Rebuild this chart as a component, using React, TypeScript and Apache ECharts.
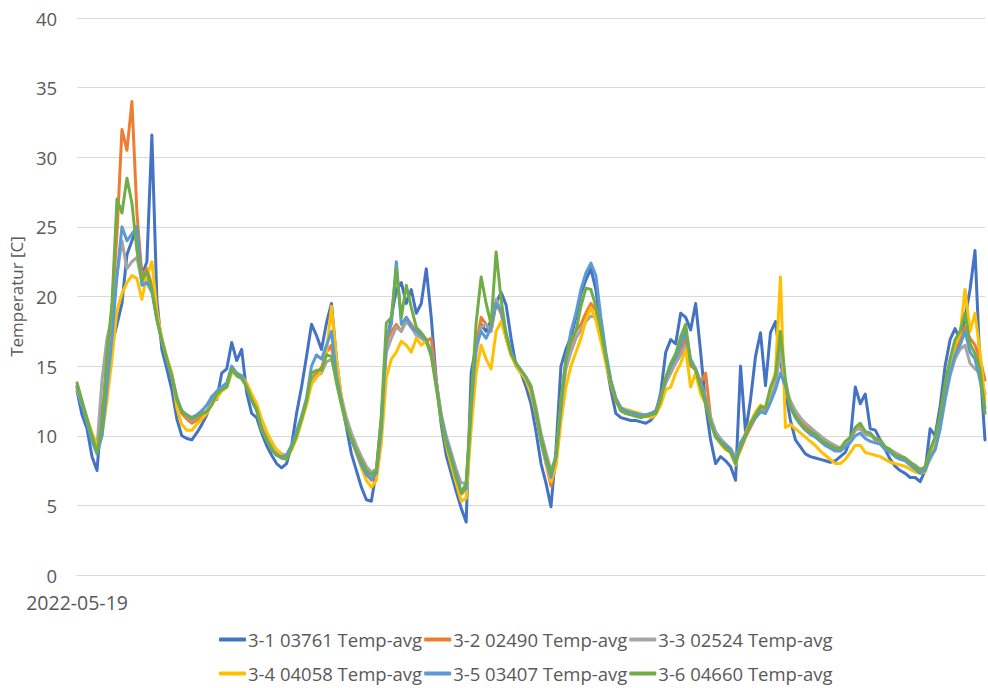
import React, { useEffect, useRef } from "react";
import * as echarts from "echarts";

const startLabel = "2022-05-19";
const yTicks = { min: 0, max: 40, interval: 5 };
const seriesNames = [
  "3-1 03761 Temp-avg",
  "3-2 02490 Temp-avg",
  "3-3 02524 Temp-avg",
  "3-4 04058 Temp-avg",
  "3-5 03407 Temp-avg",
  "3-6 04660 Temp-avg",
];
const seriesColors = ["#4472C4", "#ED7D31", "#A5A5A5", "#FFC000", "#5B9BD5", "#70AD47"];

const s31 = [
  13.2, 11.5, 10.5, 8.5, 7.5, 12.0, 13.5, 16.5, 18.0, 19.5, 23.0, 24.0, 25.0, 21.5, 22.5, 31.6, 19.8, 16.2, 14.8, 13.3,
  11.2, 10.0, 9.8, 9.7, 10.2, 10.8, 11.5, 12.8, 12.6, 14.5, 14.8, 16.7, 15.4, 16.2, 13.1, 11.6, 11.3, 10.2, 9.3, 8.6,
  8.0, 7.7, 8.0, 9.3, 11.6, 13.5, 15.7, 18.0, 17.2, 16.2, 18.1, 19.5, 15.5, 12.6, 10.6, 8.7, 7.5, 6.3, 5.4, 5.3,
  7.5, 11.0, 16.5, 18.5, 20.5, 21.0, 19.5, 20.5, 18.8, 19.5, 22.0, 18.5, 14.0, 10.8, 8.6, 7.3, 6.0, 4.8, 3.8, 14.5,
  16.5, 18.0, 17.5, 18.3, 19.5, 20.3, 19.4, 17.0, 15.0, 14.5, 13.5, 12.3, 10.3, 8.0, 6.6, 4.9, 9.0, 15.0, 16.2, 17.1,
  18.5, 20.2, 21.2, 22.0, 20.5, 17.8, 15.4, 13.3, 11.6, 11.3, 11.2, 11.1, 11.1, 11.0, 10.9, 11.1, 11.6, 13.1, 16.0, 16.9,
  16.6, 18.8, 18.5, 17.6, 19.5, 16.0, 12.2, 9.7, 8.0, 8.5, 8.2, 7.8, 6.8, 15.0, 10.2, 12.6, 15.7, 17.4, 13.6, 17.4,
  18.2, 15.4, 13.2, 11.1, 9.7, 9.2, 8.7, 8.5, 8.4, 8.3, 8.2, 8.1, 8.2, 8.5, 8.8, 9.7, 13.5, 12.3, 13.0, 10.5,
  10.4, 9.7, 9.0, 8.3, 7.8, 7.5, 7.3, 7.0, 7.0, 6.7, 7.5, 10.5, 10.0, 12.1, 15.0, 16.9, 17.7, 16.9, 18.5, 20.5,
  23.3, 15.0, 9.7,
];

const s32 = [
  13.6, 12.3, 11.0, 9.8, 8.9, 11.0, 15.5, 19.0, 24.5, 32.0, 30.5, 34.0, 26.0, 21.5, 22.0, 20.8, 18.6, 17.0, 15.6, 14.4,
  12.7, 11.6, 11.2, 10.9, 11.1, 11.4, 11.8, 12.3, 13.1, 13.4, 13.7, 14.7, 14.4, 14.2, 13.6, 12.8, 12.0, 10.7, 9.9, 9.2,
  8.7, 8.4, 8.5, 9.2, 10.0, 11.1, 12.4, 14.1, 14.5, 14.9, 16.0, 16.5, 14.0, 12.4, 10.9, 9.9, 8.9, 8.1, 7.3, 6.8,
  7.2, 11.0, 16.8, 17.5, 18.0, 17.5, 18.5, 18.0, 17.5, 17.2, 16.8, 17.0, 14.0, 11.3, 9.6, 8.4, 7.1, 5.8, 6.2, 12.0,
  16.5, 18.5, 18.0, 17.5, 19.5, 18.8, 17.0, 15.8, 15.1, 14.6, 14.0, 13.2, 11.5, 9.7, 8.0, 6.4, 8.0, 12.5, 15.2, 16.6,
  17.5, 18.0, 18.8, 19.5, 19.0, 17.5, 15.5, 13.7, 12.5, 11.8, 11.6, 11.6, 11.5, 11.4, 11.4, 11.5, 11.7, 12.8, 13.8, 14.5,
  15.3, 16.0, 17.0, 15.0, 14.8, 13.8, 14.5, 11.3, 10.2, 9.7, 9.4, 9.0, 8.2, 9.0, 9.9, 10.6, 11.3, 11.9, 11.8, 12.8,
  13.6, 17.0, 13.0, 12.4, 11.6, 11.1, 10.7, 10.4, 10.2, 9.9, 9.7, 9.4, 9.2, 9.0, 9.5, 9.8, 10.4, 10.6, 10.2, 10.1,
  9.7, 9.6, 9.1, 8.9, 8.6, 8.4, 8.3, 8.0, 7.8, 7.6, 7.7, 8.8, 9.6, 11.3, 13.5, 15.0, 16.2, 16.8, 17.8, 17.0,
  16.5, 15.5, 14.0,
];

const s33 = [
  13.5, 12.4, 11.3, 10.1, 9.2, 14.0, 17.0, 18.5, 21.5, 24.0, 22.0, 22.5, 22.8, 21.0, 21.5, 20.6, 18.5, 16.9, 15.5, 14.3,
  12.8, 11.8, 11.4, 11.1, 11.3, 11.6, 11.8, 12.3, 13.0, 13.3, 13.5, 14.6, 14.4, 14.2, 13.7, 12.9, 12.2, 10.8, 10.0, 9.3,
  8.9, 8.7, 8.6, 9.3, 10.2, 11.3, 12.5, 14.0, 14.3, 14.5, 15.3, 15.5, 14.2, 12.8, 11.3, 10.2, 9.3, 8.5, 7.8, 7.4,
  7.6, 11.2, 16.0, 17.0, 17.8, 17.5, 18.2, 17.8, 17.2, 17.0, 16.7, 15.8, 13.8, 11.6, 10.0, 8.8, 7.6, 6.6, 6.6, 11.5,
  16.0, 17.8, 18.0, 17.5, 19.8, 19.0, 17.2, 15.9, 15.2, 14.7, 14.2, 13.6, 12.0, 10.2, 8.8, 7.5, 8.5, 12.0, 14.8, 16.0,
  17.0, 17.6, 18.2, 18.6, 18.5, 17.3, 15.6, 13.9, 12.7, 12.0, 11.8, 11.7, 11.6, 11.5, 11.5, 11.6, 11.8, 12.7, 13.8, 14.6,
  15.2, 15.8, 16.5, 15.3, 14.7, 13.8, 12.8, 11.3, 10.3, 9.8, 9.4, 9.1, 8.4, 9.4, 10.1, 10.9, 11.5, 12.0, 11.9, 13.0,
  13.8, 16.0, 13.5, 12.5, 11.8, 11.3, 10.9, 10.6, 10.3, 10.0, 9.7, 9.5, 9.3, 9.1, 9.4, 9.8, 10.4, 10.5, 10.1, 10.0,
  9.8, 9.6, 9.2, 9.0, 8.8, 8.6, 8.4, 8.1, 7.9, 7.6, 7.6, 8.3, 9.0, 10.5, 12.5, 14.3, 15.5, 16.2, 16.5, 15.2,
  14.8, 14.5, 13.0,
];

const s34 = [
  13.3, 12.2, 11.2, 10.2, 9.3, 10.0, 12.5, 15.5, 19.0, 20.2, 21.0, 21.5, 21.3, 19.8, 21.5, 22.5, 19.0, 16.9, 15.6, 14.5,
  12.0, 10.8, 10.4, 10.4, 10.8, 11.2, 11.6, 12.3, 12.7, 13.2, 13.5, 14.5, 14.5, 14.3, 13.8, 13.0, 12.3, 11.2, 10.3, 9.6,
  9.0, 8.7, 8.5, 9.0, 9.8, 11.0, 12.2, 13.7, 14.2, 14.6, 16.0, 19.3, 15.5, 12.8, 11.0, 9.8, 8.7, 7.7, 6.8, 6.3,
  6.8, 9.5, 14.2, 15.5, 16.0, 16.8, 16.5, 16.0, 17.0, 16.5, 16.8, 16.0, 13.5, 11.2, 9.3, 7.9, 6.6, 5.3, 5.5, 10.5,
  14.5, 16.5, 15.5, 14.8, 17.5, 18.2, 17.0, 15.8, 15.0, 14.5, 14.0, 13.0, 11.5, 9.5, 8.0, 6.7, 7.8, 11.0, 13.5, 15.0,
  16.0, 17.0, 18.3, 19.2, 18.3, 16.8, 15.2, 13.7, 12.6, 12.0, 11.9, 11.8, 11.7, 11.6, 11.4, 11.3, 11.5, 12.2, 13.3, 13.5,
  14.5, 15.2, 16.2, 13.5, 14.5, 13.0, 12.3, 11.0, 10.0, 9.4, 9.0, 8.8, 7.9, 9.3, 10.2, 11.0, 11.7, 12.2, 12.0, 13.3,
  14.6, 21.4, 10.6, 10.8, 10.5, 10.2, 9.9, 9.6, 9.3, 8.9, 8.6, 8.3, 8.0, 8.0, 8.3, 8.8, 9.3, 9.3, 8.8, 8.7,
  8.6, 8.5, 8.3, 8.1, 8.0, 7.9, 7.8, 7.6, 7.4, 7.3, 7.4, 8.5, 9.3, 11.0, 13.0, 15.0, 16.5, 17.3, 20.5, 17.5,
  18.8, 16.0, 12.5,
];

const s35 = [
  13.5, 12.2, 10.9, 9.6, 8.7, 10.0, 13.5, 17.0, 21.5, 25.0, 24.0, 24.5, 25.0, 20.8, 21.0, 20.3, 18.4, 16.8, 15.4, 14.2,
  12.6, 11.8, 11.5, 11.3, 11.5, 11.8, 12.2, 12.8, 13.2, 13.5, 13.8, 15.0, 14.5, 14.3, 13.5, 12.5, 11.8, 10.5, 9.7, 9.0,
  8.6, 8.5, 8.6, 9.3, 10.3, 11.4, 12.7, 15.0, 15.8, 15.5, 16.5, 17.5, 14.3, 12.5, 10.9, 9.7, 8.8, 7.9, 7.2, 6.9,
  7.3, 10.5, 17.0, 18.0, 22.5, 18.0, 18.5, 17.8, 17.5, 17.2, 16.9, 16.0, 13.7, 11.3, 9.7, 8.5, 7.2, 6.0, 6.2, 12.0,
  16.5, 17.5, 17.0, 17.8, 19.5, 19.0, 17.4, 16.0, 15.2, 14.7, 14.2, 13.4, 11.6, 9.6, 8.2, 7.0, 8.5, 12.0, 15.5, 17.5,
  18.8, 20.5, 21.7, 22.4, 21.5, 18.5, 16.0, 14.0, 12.7, 12.0, 11.8, 11.7, 11.6, 11.5, 11.5, 11.6, 11.8, 12.8, 14.0, 15.0,
  15.6, 16.5, 17.5, 15.5, 14.8, 13.8, 12.5, 11.0, 10.0, 9.6, 9.3, 9.0, 8.2, 9.5, 10.1, 10.8, 11.3, 11.7, 11.6, 12.4,
  13.3, 14.5, 13.6, 12.0, 11.3, 10.8, 10.4, 10.1, 9.9, 9.6, 9.3, 9.1, 8.9, 8.9, 9.2, 9.5, 10.0, 10.2, 9.8, 9.6,
  9.5, 9.4, 9.0, 8.8, 8.5, 8.3, 8.2, 7.9, 7.6, 7.3, 7.5, 8.5, 9.0, 10.5, 12.8, 14.5, 15.8, 16.5, 17.5, 16.0,
  15.5, 14.0, 12.0,
];

const s36 = [
  13.8, 12.5, 11.2, 10.0, 8.8, 10.8, 15.8, 19.5, 27.0, 26.0, 28.5, 26.7, 23.3, 21.2, 21.8, 20.5, 18.3, 16.8, 15.5, 14.3,
  12.6, 11.7, 11.5, 11.2, 11.4, 11.6, 11.7, 12.2, 13.0, 13.3, 13.5, 14.8, 14.3, 14.1, 13.5, 12.6, 11.9, 10.4, 9.7, 9.0,
  8.6, 8.4, 8.3, 9.1, 10.0, 11.2, 12.5, 14.5, 14.7, 14.7, 15.8, 15.7, 13.8, 12.2, 10.7, 9.8, 8.9, 8.2, 7.5, 7.2,
  7.5, 11.5, 18.1, 18.5, 22.0, 18.5, 20.8, 19.2, 17.8, 17.4, 16.9, 15.7, 13.5, 11.1, 9.5, 8.3, 7.0, 5.9, 6.6, 12.5,
  18.1, 21.4, 19.5, 18.0, 23.2, 19.8, 17.3, 15.9, 15.2, 14.7, 14.2, 13.5, 11.8, 9.9, 8.5, 7.3, 8.5, 12.6, 15.5, 16.9,
  17.5, 19.3, 20.6, 20.5, 19.3, 17.6, 15.6, 13.8, 12.6, 11.8, 11.6, 11.5, 11.4, 11.3, 11.4, 11.5, 11.6, 12.6, 14.2, 15.2,
  15.9, 17.1, 18.0, 15.2, 14.7, 13.5, 12.3, 10.9, 9.9, 9.5, 9.1, 8.8, 8.0, 9.2, 10.0, 10.9, 11.5, 12.1, 12.0, 13.5,
  14.3, 17.5, 14.0, 12.1, 11.4, 10.9, 10.5, 10.3, 10.1, 9.7, 9.5, 9.3, 9.1, 9.1, 9.6, 9.9, 10.6, 10.9, 10.3, 10.2,
  9.8, 9.7, 9.2, 9.0, 8.6, 8.5, 8.4, 8.1, 7.8, 7.5, 7.8, 9.0, 9.9, 11.5, 13.8, 15.5, 16.9, 17.5, 18.8, 16.6,
  15.9, 14.8, 11.6,
];

const seriesValues = [s31, s32, s33, s34, s35, s36];
const categories = s31.map((_, i) => (i === 0 ? startLabel : ""));

const FONT = "'Open Sans', 'Noto Sans', sans-serif";
const TEXT = "#595959";

export default function App() {
  const ref = useRef<HTMLDivElement>(null);
  useEffect(() => {
    if (!ref.current) return;
    const chart = echarts.init(ref.current, undefined, { renderer: "svg" });
    const legendBase = {
      left: 214,
      itemWidth: 27,
      itemHeight: 4,
      itemGap: 2,
      icon: "roundRect",
      textStyle: { color: TEXT, fontSize: 18.5, fontFamily: FONT, padding: [0, 0, 0, -3] },
    };
    chart.setOption({
      animation: false,
      backgroundColor: "#ffffff",
      textStyle: { fontFamily: FONT },
      grid: { left: 75, right: 2, top: 18, bottom: 113, containLabel: false },
      legend: [
        { ...legendBase, top: 625, data: seriesNames.slice(0, 3) },
        { ...legendBase, top: 659, data: seriesNames.slice(3, 6) },
      ],
      xAxis: {
        type: "category",
        data: categories,
        boundaryGap: false,
        axisLine: { show: true, lineStyle: { color: "#d9d9d9", width: 1 } },
        axisTick: { show: false },
        axisLabel: { interval: 0, color: TEXT, fontSize: 19.5, fontFamily: FONT, margin: 17 },
        splitLine: { show: false },
      },
      yAxis: {
        type: "value",
        min: yTicks.min,
        max: yTicks.max,
        interval: yTicks.interval,
        name: "Temperatur [C]",
        nameLocation: "middle",
        nameGap: 49,
        nameTextStyle: { color: TEXT, fontSize: 17, fontFamily: FONT },
        axisLine: { show: false },
        axisTick: { show: false },
        axisLabel: { color: TEXT, fontSize: 18.5, fontFamily: FONT, margin: 20 },
        splitLine: { lineStyle: { color: "#d9d9d9", width: 1 } },
      },
      series: seriesNames.map((name, k) => ({
        name,
        type: "line",
        data: seriesValues[k],
        showSymbol: false,
        symbol: "none",
        color: seriesColors[k],
        lineStyle: { width: 3, color: seriesColors[k], join: "round", cap: "round" },
      })),
    });
    return () => chart.dispose();
  }, []);
  return (
    <div
      ref={ref}
      style={{ position: "fixed", left: 0, top: 0, width: 988, height: 688, background: "#fff" }}
    />
  );
}
